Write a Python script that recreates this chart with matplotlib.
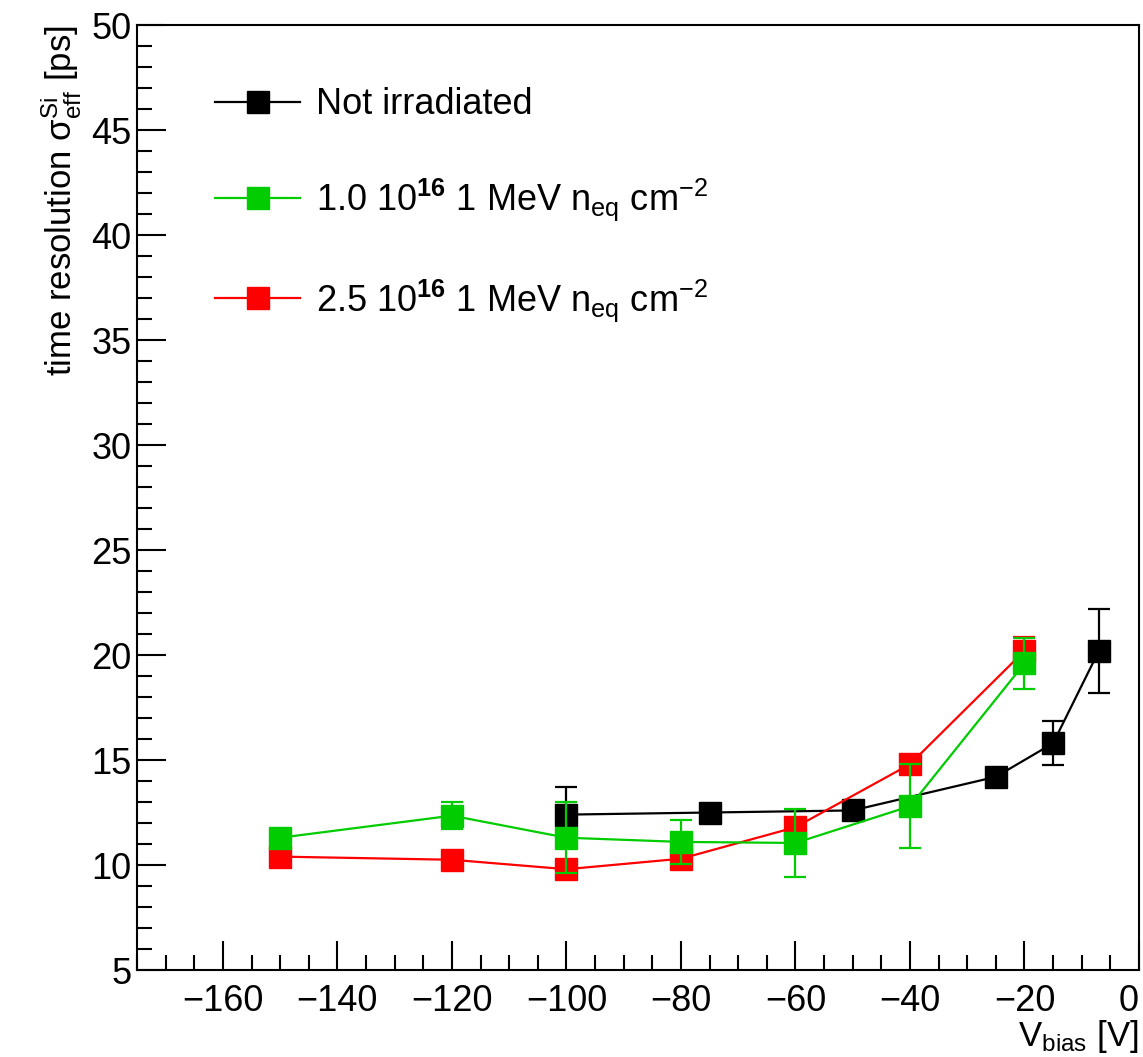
import matplotlib
matplotlib.use("Agg")
import matplotlib.pyplot as plt
from matplotlib.ticker import MultipleLocator

plt.rcParams["font.family"] = ["Liberation Sans", "DejaVu Sans"]
plt.rcParams["mathtext.fontset"] = "custom"
plt.rcParams["mathtext.rm"] = "Liberation Sans"
plt.rcParams["mathtext.it"] = "Liberation Sans:italic"
plt.rcParams["mathtext.bf"] = "Liberation Sans:bold"

# ---------- data ----------
x_black = [-100, -75, -50, -25, -15, -7]
y_black = [12.4, 12.5, 12.6, 14.2, 15.8, 20.2]
e_black = [1.3, 0.4, 0.25, 0.2, 1.05, 2.0]

x_green = [-150, -120, -100, -80, -60, -40, -20]
y_green = [11.3, 12.35, 11.3, 11.1, 11.05, 12.8, 19.6]
e_green = [0.2, 0.65, 1.7, 1.05, 1.6, 2.0, 1.2]

x_red = [-150, -120, -100, -80, -60, -40, -20]
y_red = [10.4, 10.25, 9.8, 10.3, 11.8, 14.8, 20.2]
e_red = [0.15, 0.2, 0.3, 0.2, 0.3, 0.45, 0.65]

labels = ["Not irradiated",
          r"1.0 10$^{\mathbf{16}}$ 1 MeV n$_{\mathrm{eq}}$ cm$^{\mathrm{-2}}$",
          r"2.5 10$^{\mathbf{16}}$ 1 MeV n$_{\mathrm{eq}}$ cm$^{\mathrm{-2}}$"]
colors = ["black", "#00cc00", "#ff0000"]

fig = plt.figure(figsize=(11.43, 10.57), dpi=100)
ax = fig.add_axes([0.1199, 0.0823, 0.8766, 0.894])

style = dict(marker="s", markersize=16, linewidth=1.6, elinewidth=1.6,
             capsize=8, capthick=1.6)
h_black = ax.errorbar(x_black, y_black, yerr=e_black, color=colors[0], zorder=3, **style)
h_red = ax.errorbar(x_red, y_red, yerr=e_red, color=colors[2], zorder=4, **style)
h_green = ax.errorbar(x_green, y_green, yerr=e_green, color=colors[1], zorder=5, **style)

ax.set_xlim(-175, 0)
ax.set_ylim(5, 50)
ax.xaxis.set_major_locator(MultipleLocator(20))
ax.xaxis.set_minor_locator(MultipleLocator(5))
ax.yaxis.set_major_locator(MultipleLocator(5))
ax.yaxis.set_minor_locator(MultipleLocator(1))
ax.tick_params(which="both", direction="in", top=False, right=False,
               width=1.5, labelsize=26)
ax.tick_params(which="major", length=21)
ax.tick_params(which="minor", length=11)
ax.tick_params(axis="x", pad=10)
ax.tick_params(axis="y", pad=4)
for s in ax.spines.values():
    s.set_linewidth(1.5)

ax.set_ylabel(r"time resolution $\mathrm{σ}^{\mathrm{Si}}_{\mathrm{eff}}$ [ps]",
              fontsize=25, loc="top", labelpad=6)
ax.set_xlabel(r"V$_{\mathrm{bias}}$ [V]", fontsize=25, loc="right", labelpad=-1)

# keep the "0" at the right edge inside the canvas
fig.canvas.draw()
for tick in ax.xaxis.get_major_ticks():
    if abs(tick.get_loc()) < 1e-9:
        tick.label1.set_horizontalalignment("right")

# legend shows line + marker only (no error bars)
leg = ax.legend([h_black[0], h_green[0], h_red[0]], labels, loc="upper left",
                bbox_to_anchor=(0.078, 0.934), frameon=False, fontsize=26,
                handlelength=2.35, handletextpad=0.45, labelspacing=1.5,
                borderpad=0, borderaxespad=0)

fig.savefig("out.png", dpi=100)
